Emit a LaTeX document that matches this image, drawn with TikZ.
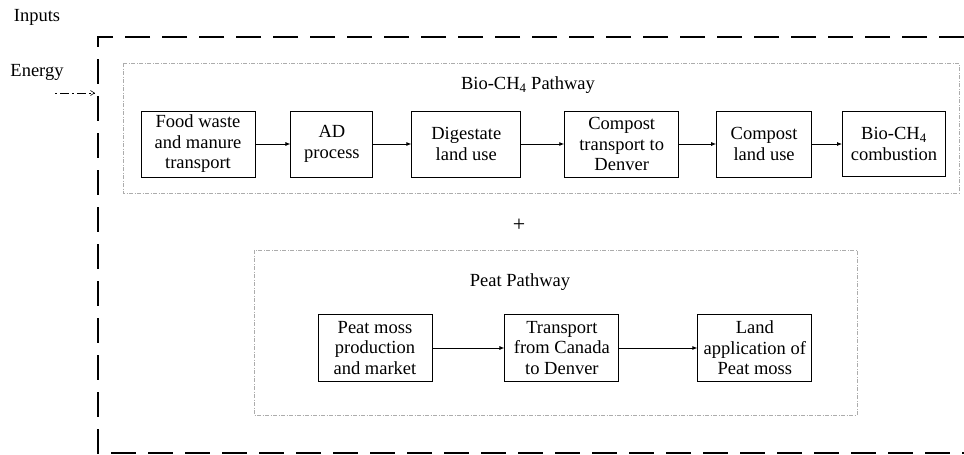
\documentclass[tikz,border=0pt]{standalone}
\usepackage{fontspec}
\setmainfont{Liberation Serif}
\usepackage{tikz}
\usetikzlibrary{positioning,arrows.meta}

\tikzset{
  proc/.style={draw, line width=0.9pt, align=center, inner sep=1pt,
    minimum height=66pt, font=\fontsize{18.5}{20.5}\selectfont},
  flow/.style={-{Latex[length=5pt,width=4pt]}, line width=0.8pt},
  pathbox/.style={draw=gray!65, line width=0.6pt,
    dash pattern=on 4pt off 1.5pt on 1pt off 1.5pt},
  frame/.style={line width=1.6pt, dash pattern=on 25pt off 12pt},
  lbl/.style={font=\fontsize{18.5}{20.5}\selectfont, inner sep=0pt}
}

\begin{document}
\begin{tikzpicture}[x=1pt, y=-1pt]
		\useasboundingbox (0,0) rectangle (964,455);

		% Outer system boundary
		\draw[frame] (964,37) -- (98,37) -- (98,453) -- (964,453);
		\node[lbl] (inputs) at (37,17) {Inputs};
		\node[lbl] (energy) at (37,72) {Energy};
		\coordinate (Eout) at (55,93);
		\coordinate (Ein) at (95,93);
		\draw[-{Straight Barb[length=4pt,width=5pt]}, line width=0.6pt,
		  dash pattern=on 2pt off 3pt on 9pt off 3pt] (Eout) -- (Ein);

		% Define nodes
		\draw[pathbox] (123,63) rectangle (959,193);
		\node[lbl] (biotitle) at (528,85) {Bio-CH\textsubscript{4} Pathway};

		\node[proc, minimum width=114pt] (food) at (198,144) {Food waste\\and manure\\transport};
		\node[proc, minimum width=82pt, right=35pt of food] (ad) {AD\\process};
		\node[proc, minimum width=109pt, right=38pt of ad] (dig) {Digestate\\land use};
		\node[proc, minimum width=114pt, right=43pt of dig] (comp) {Compost\\transport to\\Denver};
		\node[proc, minimum width=95pt, right=37pt of comp] (clu) {Compost\\land use};
		\node[proc, minimum width=103pt, minimum height=65pt, right=30pt of clu] (comb) {Bio-CH\textsubscript{4}\\combustion};

		\node[lbl, font=\fontsize{22}{24}\selectfont] (plus) at (519,225) {+};

		\draw[pathbox] (254,250) rectangle (857,415);
		\node[lbl] (peattitle) at (520,282) {Peat Pathway};

		\node[proc, minimum width=114pt, minimum height=67pt] (moss) at (375,348) {Peat moss\\production\\and market};
		\node[proc, minimum width=114pt, minimum height=67pt, right=72pt of moss] (trans) {Transport\\from Canada\\to Denver};
		\node[proc, minimum width=114pt, minimum height=67pt, right=78pt of trans] (app) {Land\\application of\\Peat moss};

		% Connect the nodes
		\draw[flow] (food) -- (ad);
		\draw[flow] (ad) -- (dig);
		\draw[flow] (dig) -- (comp);
		\draw[flow] (comp) -- (clu);
		\draw[flow] (clu) -- (comb);
		\draw[flow] (moss) -- (trans);
		\draw[flow] (trans) -- (app);
	\end{tikzpicture}
\end{document}
